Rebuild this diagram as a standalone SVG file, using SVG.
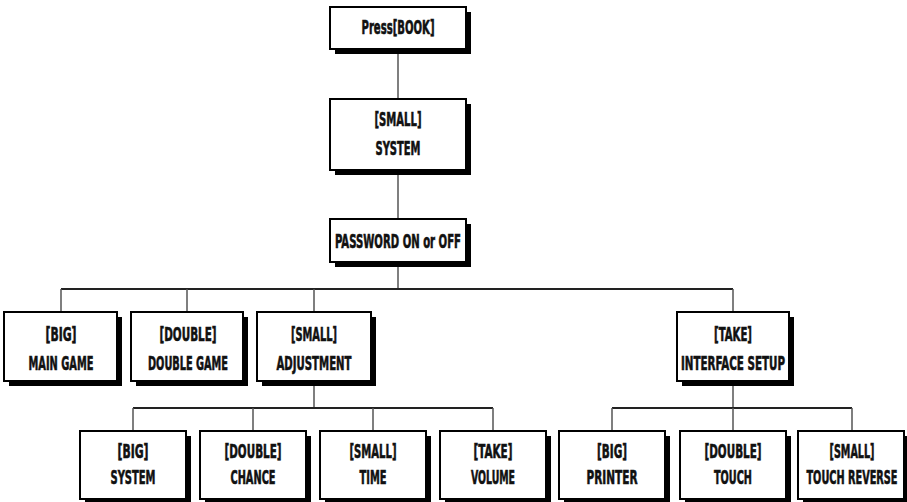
<svg xmlns="http://www.w3.org/2000/svg" width="907" height="502" viewBox="0 0 907 502">
<style>
.sh{fill:#000}
.bx{fill:#fff;stroke:#000;stroke-width:2}
.t{font-family:"DejaVu Sans Condensed","DejaVu Sans",sans-serif;font-weight:bold;font-size:19px;fill:#111;stroke:#111;stroke-width:0.6;text-anchor:middle}
.v{stroke:#555;stroke-width:1.5;fill:none}
.h{stroke:#222;stroke-width:2;fill:none}
</style>
<rect width="907" height="502" fill="#fff"/>
<g id="connectors">
<path class="v" d="M398 49V99M398 170V219M398 262V289"/>
<path class="h" d="M61 289H733"/>
<path class="v" d="M61 289V312M187 289V312M314 289V312M733 289V312"/>
<path class="v" d="M314 381V408M733 381V408"/>
<path class="h" d="M133 408H493M612 408H852"/>
<path class="v" d="M133 408V431M253 408V431M373 408V431M493 408V431M612 408V431M733 408V431M852 408V431"/>
</g>
<g id="n-book"><rect class="sh" x="335" y="12" width="136" height="42"/><rect class="bx" x="330" y="7" width="136" height="42"/><text class="t" x="398" y="34" textLength="73" lengthAdjust="spacingAndGlyphs">Press[BOOK]</text></g>
<g id="n-system"><rect class="sh" x="335" y="104" width="136" height="71"/><rect class="bx" x="330" y="99" width="136" height="71"/><text class="t" x="398" y="126" textLength="47" lengthAdjust="spacingAndGlyphs">[SMALL]</text><text class="t" x="398" y="155" textLength="45" lengthAdjust="spacingAndGlyphs">SYSTEM</text></g>
<g id="n-password"><rect class="sh" x="335" y="224" width="136" height="43"/><rect class="bx" x="330" y="219" width="136" height="43"/><text class="t" x="398" y="248" textLength="126" lengthAdjust="spacingAndGlyphs">PASSWORD ON or OFF</text></g>
<g id="n-main"><rect class="sh" x="9" y="317" width="113" height="69"/><rect class="bx" x="4" y="312" width="113" height="69"/><text class="t" x="61" y="341" textLength="31" lengthAdjust="spacingAndGlyphs">[BIG]</text><text class="t" x="61" y="370" textLength="65" lengthAdjust="spacingAndGlyphs">MAIN GAME</text></g>
<g id="n-double"><rect class="sh" x="136" y="317" width="112" height="69"/><rect class="bx" x="131" y="312" width="112" height="69"/><text class="t" x="188" y="341" textLength="57" lengthAdjust="spacingAndGlyphs">[DOUBLE]</text><text class="t" x="188" y="370" textLength="80" lengthAdjust="spacingAndGlyphs">DOUBLE GAME</text></g>
<g id="n-adjust"><rect class="sh" x="262" y="317" width="114" height="69"/><rect class="bx" x="257" y="312" width="114" height="69"/><text class="t" x="314" y="341" textLength="46" lengthAdjust="spacingAndGlyphs">[SMALL]</text><text class="t" x="314" y="370" textLength="75" lengthAdjust="spacingAndGlyphs">ADJUSTMENT</text></g>
<g id="n-interface"><rect class="sh" x="682" y="317" width="112" height="69"/><rect class="bx" x="677" y="312" width="112" height="69"/><text class="t" x="733" y="341" textLength="38" lengthAdjust="spacingAndGlyphs">[TAKE]</text><text class="t" x="733" y="370" textLength="104" lengthAdjust="spacingAndGlyphs">INTERFACE SETUP</text></g>
<g id="n-bigsystem"><rect class="sh" x="85" y="436" width="106" height="68"/><rect class="bx" x="80" y="431" width="106" height="68"/><text class="t" x="133" y="458" textLength="31" lengthAdjust="spacingAndGlyphs">[BIG]</text><text class="t" x="133" y="484" textLength="45" lengthAdjust="spacingAndGlyphs">SYSTEM</text></g>
<g id="n-chance"><rect class="sh" x="205" y="436" width="106" height="68"/><rect class="bx" x="200" y="431" width="106" height="68"/><text class="t" x="253" y="458" textLength="57" lengthAdjust="spacingAndGlyphs">[DOUBLE]</text><text class="t" x="253" y="484" textLength="45" lengthAdjust="spacingAndGlyphs">CHANCE</text></g>
<g id="n-time"><rect class="sh" x="325" y="436" width="106" height="68"/><rect class="bx" x="320" y="431" width="106" height="68"/><text class="t" x="373" y="458" textLength="47" lengthAdjust="spacingAndGlyphs">[SMALL]</text><text class="t" x="373" y="484" textLength="27" lengthAdjust="spacingAndGlyphs">TIME</text></g>
<g id="n-volume"><rect class="sh" x="445" y="436" width="106" height="68"/><rect class="bx" x="440" y="431" width="106" height="68"/><text class="t" x="493" y="458" textLength="39" lengthAdjust="spacingAndGlyphs">[TAKE]</text><text class="t" x="493" y="484" textLength="44" lengthAdjust="spacingAndGlyphs">VOLUME</text></g>
<g id="n-printer"><rect class="sh" x="564" y="436" width="106" height="68"/><rect class="bx" x="559" y="431" width="106" height="68"/><text class="t" x="612" y="458" textLength="30" lengthAdjust="spacingAndGlyphs">[BIG]</text><text class="t" x="612" y="484" textLength="51" lengthAdjust="spacingAndGlyphs">PRINTER</text></g>
<g id="n-touch"><rect class="sh" x="685" y="436" width="106" height="68"/><rect class="bx" x="680" y="431" width="106" height="68"/><text class="t" x="733" y="458" textLength="57" lengthAdjust="spacingAndGlyphs">[DOUBLE]</text><text class="t" x="733" y="484" textLength="38" lengthAdjust="spacingAndGlyphs">TOUCH</text></g>
<g id="n-reverse"><rect class="sh" x="803" y="436" width="106" height="68"/><rect class="bx" x="798" y="431" width="106" height="68"/><g transform="matrix(0.6 0 0 1 340.8 0)"><text class="t" x="852" y="458" textLength="75" lengthAdjust="spacingAndGlyphs">[SMALL]</text><text class="t" x="852" y="484" textLength="151.7" lengthAdjust="spacingAndGlyphs">TOUCH REVERSE</text></g></g>
</svg>
